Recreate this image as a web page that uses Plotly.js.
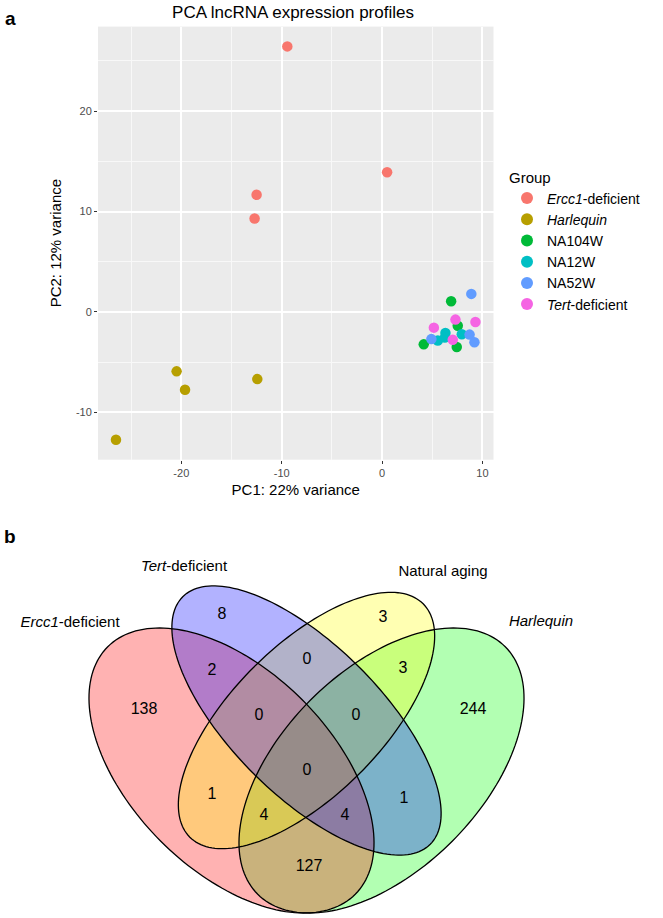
<!DOCTYPE html>
<html><head><meta charset="utf-8">
<script src="https://cdn.plot.ly/plotly-3.0.1.min.js"></script>
<style>html,body{margin:0;padding:0;background:#fff}#chart{width:663px;height:918px}</style>
</head><body><div id="chart"></div>
<script>
// ---------- Panel a: PCA data ----------
const groupNames = ['<i>Ercc1</i>-deficient', '<i>Harlequin</i>', 'NA104W', 'NA12W', 'NA52W', '<i>Tert</i>-deficient'];
const pc1_ercc1 = [-9.44, 0.5, -12.5, -12.7];
const pc2_ercc1 = [26.43, 13.9, 11.66, 9.30];
const pc1_harlequin = [-20.47, -19.63, -12.43, -26.51];
const pc2_harlequin = [-5.91, -7.74, -6.68, -12.72];
const pc1_na104w = [6.88, 7.54, 4.15, 7.44];
const pc2_na104w = [1.07, -1.37, -3.22, -3.48];
const pc1_na12w = [6.31, 7.94, 5.55, 6.25];
const pc2_na12w = [-2.09, -2.22, -2.84, -2.55];
const pc1_na52w = [8.89, 8.72, 4.91, 9.2];
const pc2_na52w = [1.8, -2.25, -2.7, -3.02];
const pc1_tert = [7.31, 9.3, 5.16, 7.04];
const pc2_tert = [-0.76, -0.99, -1.56, -2.77];
const xTickVals = [-20, -10, 0, 10];
const xTickText = ['-20', '-10', '0', '10'];
const yTickVals = [-10, 0, 10, 20];
const yTickText = ['-10', '0', '10', '20'];

// ---------- Panel b: Venn data ----------
const vennSetNames = ['<i>Ercc1</i>-deficient', '<i>Tert</i>-deficient', 'Natural aging', '<i>Harlequin</i>'];
const vennRegions = ['T', 'N', 'ET', 'TN', 'NH', 'E', 'ETN', 'TNH', 'H', 'ETNH', 'EN', 'TH', 'ENH', 'ETH', 'EH'];
const vennCounts = [8, 3, 2, 0, 3, 138, 0, 0, 244, 0, 1, 1, 4, 4, 127];

// ---------- styles / layout geometry ----------
const groupColors = ['#F8766D', '#B79F00', '#00BA38', '#00BFC4', '#619CFF', '#F564E3'];
const FONT = 'Liberation Sans, Arial, Helvetica, sans-serif';
// label positions of Venn regions (unit square of the Venn layout)
const regionPosU = [0.331, 0.653, 0.311, 0.501, 0.693, 0.175, 0.405, 0.599, 0.833, 0.501, 0.311, 0.695, 0.415, 0.577, 0.505];
const regionPosV = [0.781, 0.775, 0.669, 0.691, 0.673, 0.591, 0.579, 0.579, 0.591, 0.469, 0.421, 0.413, 0.379, 0.379, 0.277];
const setLabelU = [0.027, 0.255, 0.773, 0.969];
const setLabelV = [0.765, 0.877, 0.867, 0.767];
// ellipse geometry in drawing order (VennDiagram quad layout)
const ellipseGeom = [
  {cx: 0.65, cy: 0.47, a: 0.35, b: 0.20, rot: 45,  fill: 'rgba(0,255,0,0.3)'},   // Harlequin
  {cx: 0.35, cy: 0.47, a: 0.35, b: 0.20, rot: 135, fill: 'rgba(255,0,0,0.3)'},   // Ercc1
  {cx: 0.50, cy: 0.57, a: 0.33, b: 0.15, rot: 45,  fill: 'rgba(255,255,0,0.3)'}, // Natural aging
  {cx: 0.50, cy: 0.57, a: 0.35, b: 0.15, rot: 135, fill: 'rgba(0,0,255,0.3)'}    // Tert
];

function ellipsePath(g) {
  const n = 180, r = g.rot * Math.PI / 180;
  let d = '';
  for (let i = 0; i <= n; i++) {
    const t = 2 * Math.PI * i / n;
    const x = g.cx + g.a * Math.cos(t) * Math.cos(r) - g.b * Math.sin(t) * Math.sin(r);
    const y = g.cy + g.a * Math.cos(t) * Math.sin(r) + g.b * Math.sin(t) * Math.cos(r);
    d += (i === 0 ? 'M' : 'L') + x.toFixed(5) + ',' + y.toFixed(5);
  }
  return d + 'Z';
}

const pcaX = [pc1_ercc1, pc1_harlequin, pc1_na104w, pc1_na12w, pc1_na52w, pc1_tert];
const pcaY = [pc2_ercc1, pc2_harlequin, pc2_na104w, pc2_na12w, pc2_na52w, pc2_tert];

const traces = groupNames.map((name, i) => ({
  type: 'scatter', mode: 'markers', name: name,
  x: pcaX[i], y: pcaY[i], xaxis: 'x', yaxis: 'y',
  marker: {color: groupColors[i], size: 10.5, line: {width: 0}},
  hoverinfo: 'skip'
}));

traces.push({
  type: 'scatter', mode: 'text', x: regionPosU, y: regionPosV,
  text: vennCounts.map(String), xaxis: 'x2', yaxis: 'y2',
  textfont: {family: FONT, size: 16, color: '#000'},
  showlegend: false, hoverinfo: 'skip', cliponaxis: false
});
traces.push({
  type: 'scatter', mode: 'text', x: setLabelU, y: setLabelV,
  text: vennSetNames, xaxis: 'x2', yaxis: 'y2',
  textfont: {family: FONT, size: 15, color: '#000'},
  showlegend: false, hoverinfo: 'skip', cliponaxis: false
});

const shapes = [
  // white background for the Venn panel (covers the shared plot background)
  {type: 'rect', xref: 'x2 domain', yref: 'y2 domain', x0: 0, x1: 1, y0: 0, y1: 1,
    fillcolor: '#ffffff', line: {width: 0}, layer: 'below'}
];
ellipseGeom.forEach(g => shapes.push({type: 'path', xref: 'x2', yref: 'y2', path: ellipsePath(g),
  fillcolor: g.fill, line: {width: 0}, layer: 'below'}));
ellipseGeom.forEach(g => shapes.push({type: 'path', xref: 'x2', yref: 'y2', path: ellipsePath(g),
  fillcolor: 'rgba(0,0,0,0)', line: {width: 1.3, color: '#000'}, layer: 'below'}));

const W = 663, H = 918;
const axBase = {
  showline: false, zeroline: false, showgrid: true, gridcolor: '#ffffff', gridwidth: 2,
  ticks: 'outside', ticklen: 3, tickwidth: 1, tickcolor: '#333333', tickmode: 'array',
  tickfont: {family: FONT, size: 11, color: '#4d4d4d'},
  minor: {dtick: 5, tick0: 0, showgrid: true, gridcolor: '#f8f8f8', gridwidth: 1, ticks: ''},
  automargin: false, fixedrange: true
};

const layout = {
  width: W, height: H,
  margin: {l: 0, r: 0, t: 0, b: 0, pad: 0},
  paper_bgcolor: '#ffffff', plot_bgcolor: '#ebebeb',
  font: {family: FONT, color: '#000'},
  title: {text: 'PCA lncRNA expression profiles', font: {family: FONT, size: 17, color: '#000'},
    x: 293 / W, xanchor: 'center', xref: 'paper', y: 1 - 12 / H, yanchor: 'middle', yref: 'container'},
  xaxis: Object.assign({}, axBase, {domain: [98 / W, 493.5 / W], range: [-28.3, 11.1],
    tickvals: xTickVals, ticktext: xTickText,
    anchor: 'y', title: {text: 'PC1: 22% variance', font: {family: FONT, size: 15, color: '#000'}, standoff: 6}}),
  yaxis: Object.assign({}, axBase, {domain: [1 - 459.7 / H, 1 - 26.6 / H], range: [-14.7, 28.4],
    tickvals: yTickVals, ticktext: yTickText,
    anchor: 'x', title: {text: 'PC2: 12% variance', font: {family: FONT, size: 15, color: '#000'}, standoff: 10}}),
  xaxis2: {domain: [0, 1], range: [-0.113, 1.213], visible: false, fixedrange: true, anchor: 'y2'},
  yaxis2: {domain: [0, 1 - 520 / H], range: [0.175, 0.971], visible: false, fixedrange: true, anchor: 'x2'},
  showlegend: true,
  legend: {x: 507 / W, xanchor: 'left', y: 1 - 163 / H, yanchor: 'top', bgcolor: 'rgba(0,0,0,0)',
    title: {text: 'Group', font: {family: FONT, size: 15, color: '#000'}},
    font: {family: FONT, size: 14, color: '#000'}, itemsizing: 'constant', tracegroupgap: 0},
  shapes: shapes,
  annotations: [
    {text: '<b>a</b>', xref: 'paper', yref: 'paper', x: 10 / W, y: 1 - 18 / H, xanchor: 'center', yanchor: 'middle',
      showarrow: false, font: {family: FONT, size: 19, color: '#000'}},
    {text: '<b>b</b>', xref: 'paper', yref: 'paper', x: 10 / W, y: 1 - 536 / H, xanchor: 'center', yanchor: 'middle',
      showarrow: false, font: {family: FONT, size: 19, color: '#000'}}
  ]
};

Plotly.newPlot('chart', traces, layout, {staticPlot: true, displayModeBar: false});
</script></body></html>
